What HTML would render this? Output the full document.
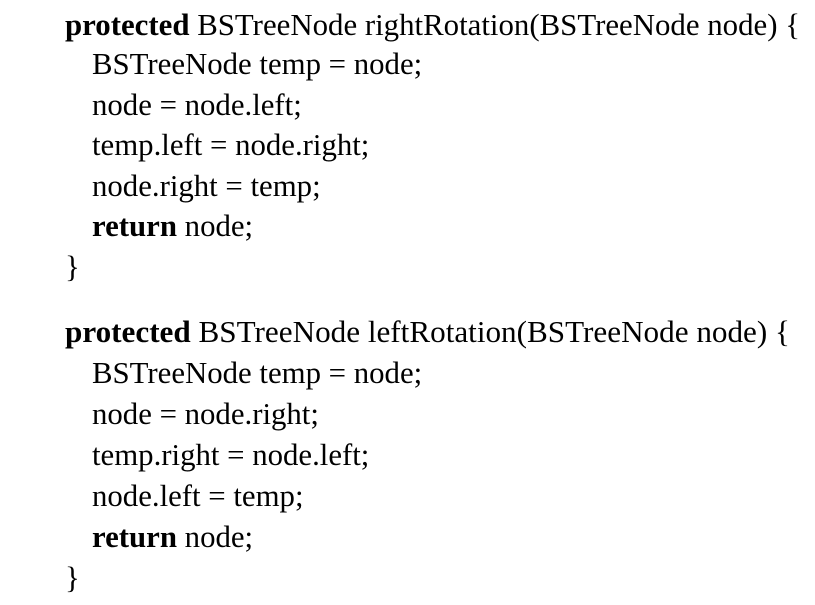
<!DOCTYPE html>
<html><head><meta charset="utf-8"><style>
html,body{margin:0;padding:0;background:#fff;}
svg{display:block}
text{font-family:"Liberation Serif",serif;font-size:30.8px;fill:#000}
.b{font-weight:bold}
</style></head><body>
<svg width="815" height="605" xmlns="http://www.w3.org/2000/svg">
<text x="65" y="35" textLength="735" lengthAdjust="spacingAndGlyphs"><tspan class="b">protected</tspan> BSTreeNode rightRotation(BSTreeNode node) {</text>
<text x="92" y="74">BSTreeNode temp = node;</text>
<text x="92" y="115">node = node.left;</text>
<text x="92" y="155">temp.left = node.right;</text>
<text x="92" y="196">node.right = temp;</text>
<text x="92" y="236"><tspan class="b">return</tspan> node;</text>
<text x="65" y="277">}</text>
<text x="65" y="342" textLength="725" lengthAdjust="spacingAndGlyphs"><tspan class="b">protected</tspan> BSTreeNode leftRotation(BSTreeNode node) {</text>
<text x="92" y="383">BSTreeNode temp = node;</text>
<text x="92" y="424">node = node.right;</text>
<text x="92" y="465">temp.right = node.left;</text>
<text x="92" y="506">node.left = temp;</text>
<text x="92" y="547"><tspan class="b">return</tspan> node;</text>
<text x="65" y="588">}</text>
</svg>
</body></html>
